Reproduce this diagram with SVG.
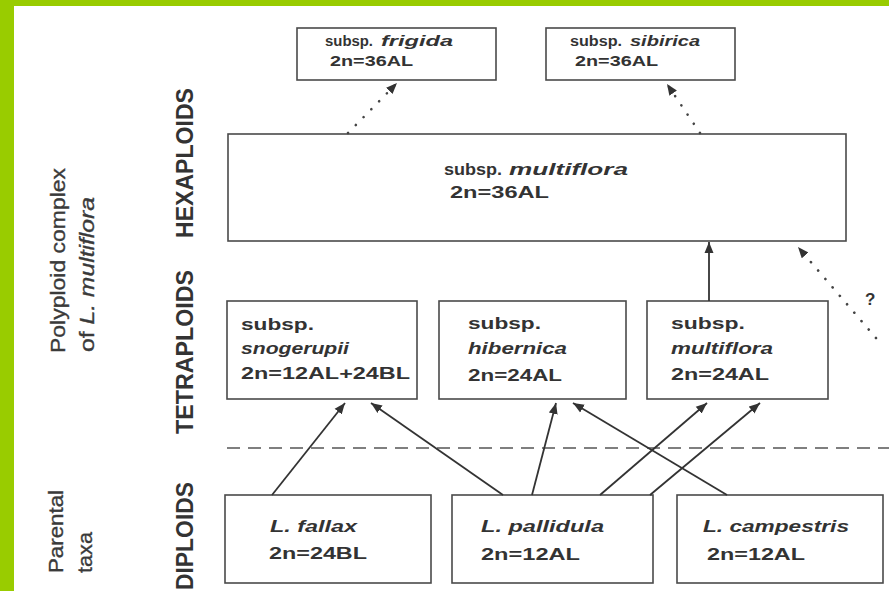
<svg xmlns="http://www.w3.org/2000/svg" width="889" height="591" viewBox="0 0 889 591">
<defs>
<marker id="ah" markerUnits="userSpaceOnUse" markerWidth="13" markerHeight="10" refX="11" refY="5" orient="auto"><path d="M0,0.5 L11,5 L0,9.5 z" fill="#333"/></marker>
</defs>
<style>
.box{fill:#fff;stroke:#4a4a4a;stroke-width:1.6}
.t{font-family:"Liberation Sans",Arial,Helvetica,sans-serif;fill:#333;font-weight:bold}
.i{font-style:italic}
.lab{font-family:"Liberation Sans",Arial,Helvetica,sans-serif;fill:#3a3a3a;stroke:#3a3a3a;stroke-width:0.35}
.lv{font-family:"Liberation Sans",Arial,Helvetica,sans-serif;fill:#333;font-weight:bold;font-size:24px}
.edge{stroke:#333;stroke-width:1.8;fill:none}
.dot{stroke:#444;stroke-width:2.6;stroke-linecap:round;stroke-dasharray:0.1 11;fill:none}
.dash{stroke:#555;stroke-width:1.5;stroke-dasharray:13 8;fill:none}
</style>
<rect width="889" height="591" fill="#fff"/>
<rect x="0" y="0" width="889" height="6" fill="#99cc00"/>
<rect x="0" y="0" width="14" height="591" fill="#99cc00"/>

<g id="side-labels">
<text class="lab" font-size="20" transform="translate(65,353) rotate(-90)" textLength="185" lengthAdjust="spacingAndGlyphs">Polyploid complex</text>
<text class="lab" font-size="20" transform="translate(94,352) rotate(-90)" textLength="155" lengthAdjust="spacingAndGlyphs">of <tspan class="i">L. multiflora</tspan></text>
<text class="lab" font-size="20" transform="translate(63,573) rotate(-90)" textLength="83" lengthAdjust="spacingAndGlyphs">Parental</text>
<text class="lab" font-size="20" transform="translate(92,573) rotate(-90)" textLength="41" lengthAdjust="spacingAndGlyphs">taxa</text>
<text class="lv" transform="translate(193,238) rotate(-90)" textLength="150" lengthAdjust="spacingAndGlyphs">HEXAPLOIDS</text>
<text class="lv" transform="translate(193,434) rotate(-90)" textLength="164" lengthAdjust="spacingAndGlyphs">TETRAPLOIDS</text>
<text class="lv" transform="translate(193,590) rotate(-90)" textLength="108" lengthAdjust="spacingAndGlyphs">DIPLOIDS</text>
</g>

<path class="dash" d="M227,448 H889"/>

<g id="frigida">
<rect class="box" x="297" y="28" width="199" height="52"/>
<text class="t" font-size="14" x="325" y="46" textLength="48" lengthAdjust="spacingAndGlyphs">subsp.</text>
<text class="t i" font-size="14" x="381" y="46" textLength="72" lengthAdjust="spacingAndGlyphs">frigida</text>
<text class="t" font-size="14" x="330" y="66" textLength="83" lengthAdjust="spacingAndGlyphs">2n=36AL</text>
</g>
<g id="sibirica">
<rect class="box" x="546" y="28" width="189" height="52"/>
<text class="t" font-size="14" x="570" y="46" textLength="52" lengthAdjust="spacingAndGlyphs">subsp.</text>
<text class="t i" font-size="14" x="630" y="46" textLength="70" lengthAdjust="spacingAndGlyphs">sibirica</text>
<text class="t" font-size="14" x="575" y="66" textLength="83" lengthAdjust="spacingAndGlyphs">2n=36AL</text>
</g>
<g id="hex-multiflora">
<rect class="box" x="228" y="134" width="618" height="107"/>
<text class="t" font-size="16" x="444" y="175" textLength="58" lengthAdjust="spacingAndGlyphs">subsp.</text>
<text class="t i" font-size="16" x="509" y="175" textLength="119" lengthAdjust="spacingAndGlyphs">multiflora</text>
<text class="t" font-size="16" x="450" y="198" textLength="99" lengthAdjust="spacingAndGlyphs">2n=36AL</text>
</g>
<g id="snogerupii">
<rect class="box" x="227" y="301" width="190" height="98"/>
<text class="t" font-size="17" x="241" y="330" textLength="73" lengthAdjust="spacingAndGlyphs">subsp.</text>
<text class="t i" font-size="17" x="241" y="354" textLength="108" lengthAdjust="spacingAndGlyphs">snogerupii</text>
<text class="t" font-size="17" x="241" y="379" textLength="169" lengthAdjust="spacingAndGlyphs">2n=12AL+24BL</text>
</g>
<g id="hibernica">
<rect class="box" x="439" y="301" width="187" height="98"/>
<text class="t" font-size="17" x="468" y="329" textLength="73" lengthAdjust="spacingAndGlyphs">subsp.</text>
<text class="t i" font-size="17" x="468" y="354" textLength="99" lengthAdjust="spacingAndGlyphs">hibernica</text>
<text class="t" font-size="17" x="468" y="381" textLength="94" lengthAdjust="spacingAndGlyphs">2n=24AL</text>
</g>
<g id="tet-multiflora">
<rect class="box" x="647" y="301" width="181" height="98"/>
<text class="t" font-size="17" x="671" y="329" textLength="74" lengthAdjust="spacingAndGlyphs">subsp.</text>
<text class="t i" font-size="17" x="671" y="354" textLength="102" lengthAdjust="spacingAndGlyphs">multiflora</text>
<text class="t" font-size="17" x="671" y="380" textLength="98" lengthAdjust="spacingAndGlyphs">2n=24AL</text>
</g>
<g id="fallax">
<rect class="box" x="225" y="495" width="206" height="88"/>
<text class="t i" font-size="16" x="270" y="532" textLength="87" lengthAdjust="spacingAndGlyphs">L. fallax</text>
<text class="t" font-size="16" x="269" y="559" textLength="98" lengthAdjust="spacingAndGlyphs">2n=24BL</text>
</g>
<g id="pallidula">
<rect class="box" x="452" y="495" width="201" height="88"/>
<text class="t i" font-size="16" x="481" y="532" textLength="123" lengthAdjust="spacingAndGlyphs">L. pallidula</text>
<text class="t" font-size="16" x="481" y="560" textLength="99" lengthAdjust="spacingAndGlyphs">2n=12AL</text>
</g>
<g id="campestris">
<rect class="box" x="677" y="495" width="206" height="88"/>
<text class="t i" font-size="16" x="703" y="532" textLength="146" lengthAdjust="spacingAndGlyphs">L. campestris</text>
<text class="t" font-size="16" x="707" y="560" textLength="98" lengthAdjust="spacingAndGlyphs">2n=12AL</text>
</g>

<g id="connectors">
<path class="edge" marker-end="url(#ah)" d="M272,495 L345,403"/>
<path class="edge" marker-end="url(#ah)" d="M503,495 L371,403"/>
<path class="edge" marker-end="url(#ah)" d="M532,495 L556,403"/>
<path class="edge" marker-end="url(#ah)" d="M727,495 L573,403"/>
<path class="edge" marker-end="url(#ah)" d="M600,495 L707,403"/>
<path class="edge" marker-end="url(#ah)" d="M650,495 L760,403"/>
<path class="edge" marker-end="url(#ah)" d="M709,301 L709,242"/>
<path class="dot" marker-end="url(#ah)" d="M348,133 L397,83"/>
<path class="dot" marker-end="url(#ah)" d="M700,133 L667,84"/>
<path class="dot" marker-end="url(#ah)" d="M876,338 L798,247"/>
<text class="t" font-size="17" x="865" y="305">?</text>
</g>
</svg>
